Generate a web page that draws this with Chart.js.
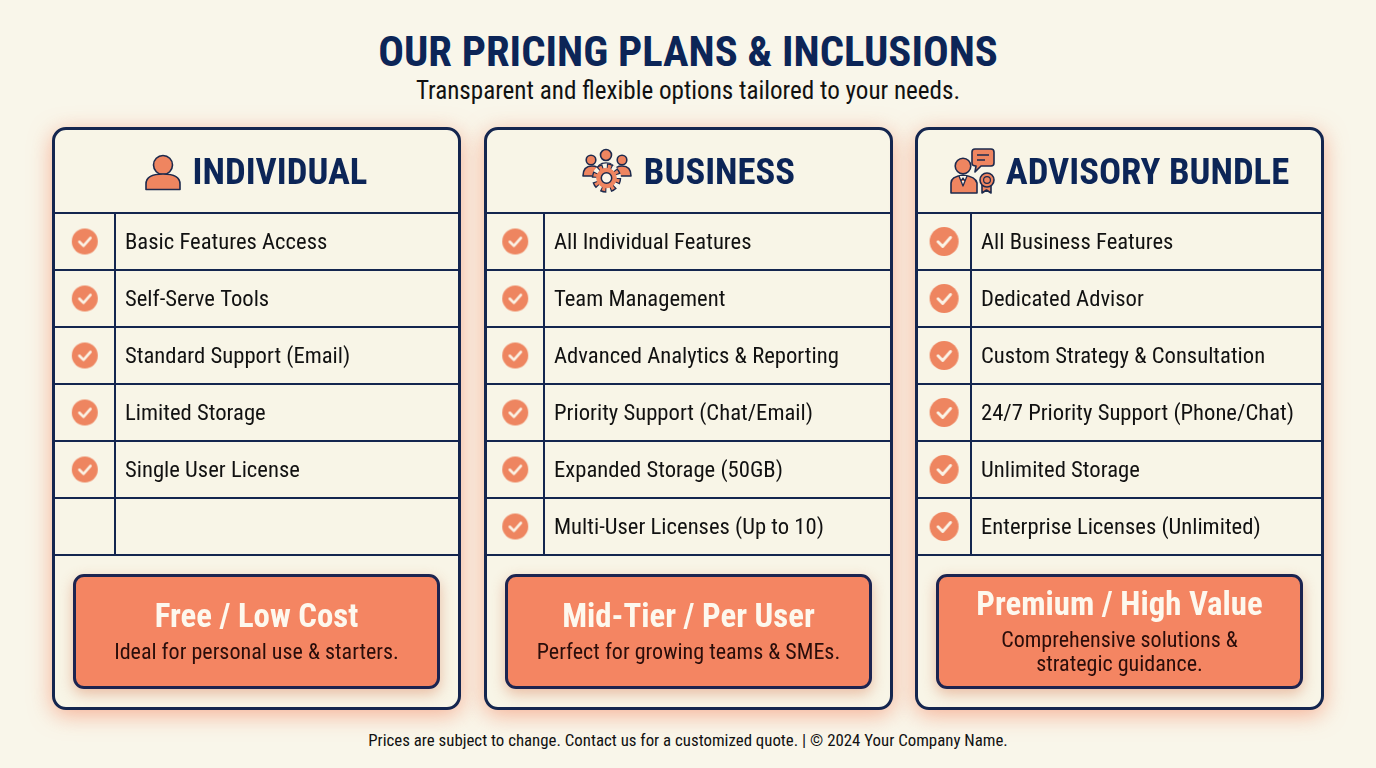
<!DOCTYPE html>
<html>
<head>
<meta charset="utf-8">
<title>Pricing plans</title>
<script src="https://cdn.jsdelivr.net/npm/chart.js@4/dist/chart.umd.min.js"></script>
<style>
    html, body { margin: 0; padding: 0; }
    body { width: 1376px; height: 768px; position: relative; overflow: hidden; background: #f9f6ea; font-family: Roboto, sans-serif; font-stretch: condensed; color: #111; }
    .line { position: absolute; white-space: nowrap; text-align: center; transform: translate(-50%, -50%); line-height: 1; }
    .main-title { font-size: 42.700px; font-weight: 700; color: #0c2557; }
    .sub-title { font-size: 25.100px; }
    .foot { font-size: 16.850px; }
    .card { position: absolute; top: 127px; width: 409px; height: 583px; box-sizing: border-box; border: 3px solid #14264f; border-radius: 14px; background: #f8f5e7; box-shadow: 0 5px 22px rgba(244, 132, 95, .6); }
    .card canvas { position: absolute; left: -3px; top: -3px; }
    .price { position: absolute; top: 574px; width: 367px; height: 115px; box-sizing: border-box; border: 3.5px solid #1c2450; border-radius: 11px; background: #f48562; box-shadow: 0 5px 14px rgba(214, 120, 80, .45); }
    .plan-name { font-size: 36.700px; font-weight: 700; color: #0c2557; }
    .price-title { font-size: 32.800px; font-weight: 700; color: #fdf8ee; }
    .price-note { font-size: 22.050px; color: #2a0d0a; }
    svg { position: absolute; left: 0; top: 0; }
    svg .ic { fill: #ef8560; stroke: #1d2a4d; stroke-width: 1.6; stroke-linejoin: round; }
</style>
</head>
<body>
<div class="line main-title" style="left:688px;top:51px">OUR PRICING PLANS &amp; INCLUSIONS</div>
<div class="line sub-title" style="left:688px;top:91px">Transparent and flexible options tailored to your needs.</div>
<div class="line foot" style="left:688px;top:740px">Prices are subject to change. Contact us for a customized quote. | © 2024 Your Company Name.</div>
<div id="cards"></div>
<svg width="1376" height="768" viewBox="0 0 1376 768">
    <!-- individual -->
    <circle class="ic" cx="163" cy="165" r="9.5"/>
    <path class="ic" d="M146 189.5 V184 C146 177 153 174 163 174 C173 174 180 177 180 184 V189.5 Z"/>
    <!-- business -->
    <circle class="ic" cx="606" cy="155" r="5.5"/>
    <circle class="ic" cx="591" cy="160" r="4.8"/>
    <circle class="ic" cx="622" cy="160" r="4.8"/>
    <path class="ic" d="M583 176 C583 169 587 166 592 166 C596 166 599 168 600 171 L596 176 Z"/>
    <path class="ic" d="M631 176 C631 169 627 166 622 166 C618 166 615 168 614 171 L618 176 Z"/>
    <path class="ic" d="M596 172 C597 166 601 163 606 163 C612 163 615 166 617 172 Z"/>
    <circle cx="606.500" cy="178" r="14.500" fill="#f8f5e7"/>
    <circle cx="606.500" cy="178" r="11" fill="none" stroke="#1d2a4d" stroke-width="7.500" stroke-dasharray="5 3.640"/>
    <circle cx="606.500" cy="178" r="11" fill="none" stroke="#ef8560" stroke-width="4.600" stroke-dasharray="3 5.640" stroke-dashoffset="-1"/>
    <circle cx="606.500" cy="178" r="9.800" fill="#ef8560" stroke="#ef8560" stroke-width="1"/>
    <circle cx="606.500" cy="178" r="5.200" fill="#fbf6ea" stroke="#1d2a4d" stroke-width="1.500"/>
    <!-- advisory -->
    <circle class="ic" cx="963" cy="166" r="7.800"/>
    <path class="ic" d="M951 193 V183 C951 178 955 176 963 175 C971 176 976 178 977 183 V193 Z"/>
    <path d="M959 176 L963 186 L967 176 M961 181 L963 178 L965 181" fill="#fbf6ea" stroke="#1d2a4d" stroke-width="1.300" stroke-linejoin="round"/>
    <path class="ic" d="M975 149 H991 Q994 149 994 152 V163 Q994 166 991 166 H981 L975 172 L976 166 Q972 166 972 163 V152 Q972 149 975 149 Z"/>
    <path d="M977 155 H989 M977 160 H985" stroke="#1d2a4d" stroke-width="1.400" fill="none"/>
    <path class="ic" d="M982 185 V193 L986.500 190 L991 193 V185 Z"/>
    <circle class="ic" cx="987" cy="180" r="7"/>
    <circle cx="987" cy="180" r="3.400" fill="none" stroke="#1d2a4d" stroke-width="1.200"/>
</svg>
<script>
// ===== Pricing cards =====

const planNames = ['INDIVIDUAL', 'BUSINESS', 'ADVISORY BUNDLE'];

const individualFeatures = ['Basic Features Access', 'Self-Serve Tools', 'Standard Support (Email)', 'Limited Storage', 'Single User License', ''];
const businessFeatures = ['All Individual Features', 'Team Management', 'Advanced Analytics & Reporting', 'Priority Support (Chat/Email)', 'Expanded Storage (50GB)', 'Multi-User Licenses (Up to 10)'];
const advisoryFeatures = ['All Business Features', 'Dedicated Advisor', 'Custom Strategy & Consultation', '24/7 Priority Support (Phone/Chat)', 'Unlimited Storage', 'Enterprise Licenses (Unlimited)'];

const individualChecks = [1, 1, 1, 1, 1, 0];
const businessChecks = [1, 1, 1, 1, 1, 1];
const advisoryChecks = [1, 1, 1, 1, 1, 1];

const priceTitles = ['Free / Low Cost', 'Mid-Tier / Per User', 'Premium / High Value'];
const priceNotes = [['Ideal for personal use & starters.'], ['Perfect for growing teams & SMEs.'], ['Comprehensive solutions &', 'strategic guidance.']];

const allFeatures = [individualFeatures, businessFeatures, advisoryFeatures];
const allChecks = [individualChecks, businessChecks, advisoryChecks];

// layout
const cardLefts = [52, 484, 915];
const priceLefts = [73, 505, 936];
const dividerOffsets = [63, 60, 56];
const planNameCenters = [280, 719.5, 1147.5];
const checkRadius = [13, 13, 14.5];
const CARD_W = 409;
const CARD_H = 583;
const NAVY = '#14264f';

// round coral badge with the tick, used as point style
function makeCheckIcon(r) {
    const c = document.createElement('canvas');
    c.width = c.height = Math.ceil(r * 2) + 2;
    const m = c.width / 2;
    const g = c.getContext('2d');
    g.fillStyle = '#ee8560';
    g.beginPath();
    g.arc(m, m, r, 0, Math.PI * 2);
    g.fill();
    g.strokeStyle = '#fbf3e6';
    g.lineWidth = r * 0.2;
    g.lineCap = 'round';
    g.lineJoin = 'round';
    g.beginPath();
    g.moveTo(m - r * 0.42, m + r * 0.02);
    g.lineTo(m - r * 0.1, m + r * 0.34);
    g.lineTo(m + r * 0.44, m - r * 0.28);
    g.stroke();
    return c;
}

function addText(parent, cls, text, x, y) {
    const el = document.createElement('div');
    el.className = 'line ' + cls;
    el.style.left = x + 'px';
    el.style.top = y + 'px';
    el.textContent = text;
    parent.appendChild(el);
}

function buildCard(i) {
    const holder = document.getElementById('cards');

    const card = document.createElement('div');
    card.className = 'card';
    card.style.left = cardLefts[i] + 'px';
    const canvas = document.createElement('canvas');
    canvas.width = CARD_W;
    canvas.height = CARD_H;
    canvas.style.width = CARD_W + 'px';
    canvas.style.height = CARD_H + 'px';
    card.appendChild(canvas);
    holder.appendChild(card);

    addText(holder, 'plan-name', planNames[i], planNameCenters[i], 172);

    const price = document.createElement('div');
    price.className = 'price';
    price.style.left = priceLefts[i] + 'px';
    holder.appendChild(price);

    const cx = priceLefts[i] + 183.5;
    const notes = priceNotes[i];
    addText(holder, 'price-title', priceTitles[i], cx, notes.length > 1 ? 604 : 616);
    if (notes.length > 1) {
        addText(holder, 'price-note', notes[0], cx, 640);
        addText(holder, 'price-note', notes[1], cx, 664);
    } else {
        addText(holder, 'price-note', notes[0], cx, 652);
    }

    const features = allFeatures[i];
    const checks = allChecks[i];
    const labelColumn = CARD_W - dividerOffsets[i];

    new Chart(canvas, {
        type: 'scatter',
        data: {
            datasets: [{
                data: features.map((f, k) => ({ x: 0.52, y: f, on: checks[k] })).filter(p => p.on),
                pointStyle: makeCheckIcon(checkRadius[i]),
                pointRadius: checkRadius[i]
            }]
        },
        options: {
            responsive: false,
            animation: false,
            layout: { autoPadding: false, padding: { top: 86, bottom: 155, left: 0, right: 0 } },
            plugins: { legend: { display: false }, tooltip: { enabled: false } },
            scales: {
                x: { type: 'linear', min: 0, max: 1, display: false },
                y: {
                    type: 'category',
                    labels: features,
                    position: 'right',
                    offset: true,
                    afterFit: scale => { scale.width = labelColumn; },
                    border: { display: true, color: NAVY, width: 2 },
                    grid: { offset: true, color: NAVY, lineWidth: 2, tickLength: labelColumn, drawTicks: true },
                    ticks: {
                        autoSkip: false,
                        crossAlign: 'near',
                        padding: 10 - labelColumn,
                        color: '#111',
                        // leading empty line with a small line height nudges the text 2px down
                        callback: (value, index) => ['', features[index]],
                        font: { family: 'Roboto', size: 22.66, weight: 'condensed 400', lineHeight: '4px' }
                    }
                }
            }
        }
    });
}

planNames.forEach((name, i) => buildCard(i));
</script>
</body>
</html>
